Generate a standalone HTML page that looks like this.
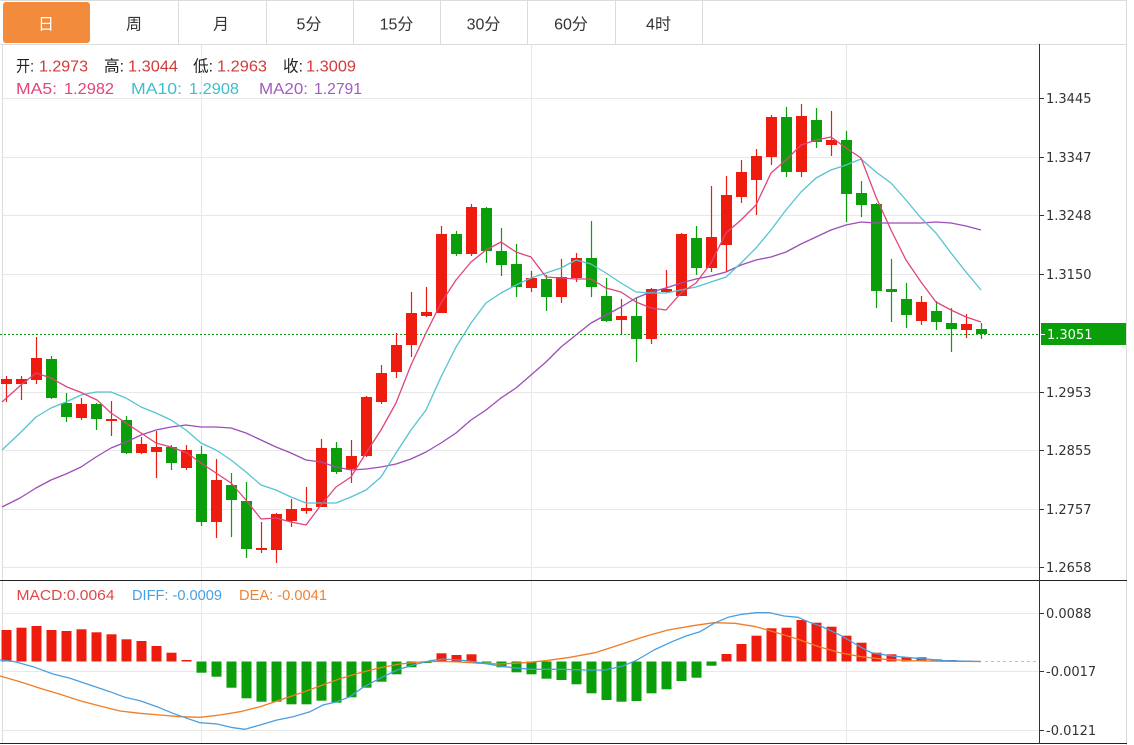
<!DOCTYPE html>
<html>
<head>
<meta charset="utf-8">
<style>
html,body{margin:0;padding:0;background:#fff;overflow:hidden;}
svg{display:block;}
.t{font-family:"Liberation Sans","Noto Sans CJK SC",sans-serif;}
.ax{font-family:"DejaVu Sans","Liberation Sans",sans-serif;font-size:13px;fill:#333;}
</style>
</head>
<body>
<svg width="1134" height="745" viewBox="0 0 1134 745" xmlns="http://www.w3.org/2000/svg">
<rect x="0" y="0" width="1134" height="745" fill="#fff"/>

<!-- tab bar -->
<line x1="0" y1="0.5" x2="1127" y2="0.5" stroke="#dcdcdc"/>
<line x1="0" y1="44.5" x2="1127" y2="44.5" stroke="#dcdcdc"/>
<g stroke="#dcdcdc">
<line x1="178.5" y1="0" x2="178.5" y2="44"/>
<line x1="266.5" y1="0" x2="266.5" y2="44"/>
<line x1="353.5" y1="0" x2="353.5" y2="44"/>
<line x1="440.5" y1="0" x2="440.5" y2="44"/>
<line x1="527.5" y1="0" x2="527.5" y2="44"/>
<line x1="615.5" y1="0" x2="615.5" y2="44"/>
<line x1="702.5" y1="0" x2="702.5" y2="44"/>
<line x1="1126.5" y1="0" x2="1126.5" y2="745"/>
<line x1="2.5" y1="44" x2="2.5" y2="743"/>
</g>
<rect x="3" y="2" width="87" height="41" rx="3" fill="#f28b3c"/>
<g class="t" font-size="16" text-anchor="middle" fill="#333">
<text x="46" y="29.5" fill="#fff">日</text>
<text x="134" y="29.5">周</text>
<text x="221" y="29.5">月</text>
<text x="309" y="29.5">5分</text>
<text x="396.5" y="29.5">15分</text>
<text x="483.5" y="29.5">30分</text>
<text x="571" y="29.5">60分</text>
<text x="658.5" y="29.5">4时</text>
</g>

<!-- grid -->
<g stroke="#e8e8e8" stroke-width="1">
<line x1="3" y1="98.5" x2="1039" y2="98.5"/>
<line x1="3" y1="157.5" x2="1039" y2="157.5"/>
<line x1="3" y1="215.5" x2="1039" y2="215.5"/>
<line x1="3" y1="274.5" x2="1039" y2="274.5"/>
<line x1="3" y1="392.5" x2="1039" y2="392.5"/>
<line x1="3" y1="450.5" x2="1039" y2="450.5"/>
<line x1="3" y1="509.5" x2="1039" y2="509.5"/>
<line x1="3" y1="567.5" x2="1039" y2="567.5"/>
<line x1="3" y1="613.5" x2="1039" y2="613.5"/>
<line x1="3" y1="671.5" x2="1039" y2="671.5"/>
<line x1="3" y1="730.5" x2="1039" y2="730.5"/>
<line x1="201.5" y1="45" x2="201.5" y2="743"/>
<line x1="531.5" y1="45" x2="531.5" y2="743"/>
<line x1="846.5" y1="45" x2="846.5" y2="743"/>
</g>

<!-- legend -->
<g class="t" font-size="16">
<text x="16" y="71.5" fill="#222" textLength="18" lengthAdjust="spacingAndGlyphs">开:</text>
<text x="39" y="71.5" fill="#d23a3a" textLength="49" lengthAdjust="spacingAndGlyphs">1.2973</text>
<text x="104" y="71.5" fill="#222" textLength="20" lengthAdjust="spacingAndGlyphs">高:</text>
<text x="128" y="71.5" fill="#d23a3a" textLength="50" lengthAdjust="spacingAndGlyphs">1.3044</text>
<text x="193" y="71.5" fill="#222" textLength="20" lengthAdjust="spacingAndGlyphs">低:</text>
<text x="217" y="71.5" fill="#d23a3a" textLength="50" lengthAdjust="spacingAndGlyphs">1.2963</text>
<text x="283" y="71.5" fill="#222" textLength="20" lengthAdjust="spacingAndGlyphs">收:</text>
<text x="306" y="71.5" fill="#d23a3a" textLength="50" lengthAdjust="spacingAndGlyphs">1.3009</text>
<text x="16" y="94" fill="#e0457b" textLength="41" lengthAdjust="spacingAndGlyphs">MA5:</text>
<text x="64" y="94" fill="#e0457b" textLength="50" lengthAdjust="spacingAndGlyphs">1.2982</text>
<text x="131" y="94" fill="#3dbfcc" textLength="51" lengthAdjust="spacingAndGlyphs">MA10:</text>
<text x="189" y="94" fill="#3dbfcc" textLength="50" lengthAdjust="spacingAndGlyphs">1.2908</text>
<text x="259" y="94" fill="#a05cc0" textLength="49" lengthAdjust="spacingAndGlyphs">MA20:</text>
<text x="314" y="94" fill="#a05cc0" textLength="48" lengthAdjust="spacingAndGlyphs">1.2791</text>
</g>

<!-- current price dotted line -->
<line x1="0" y1="334.5" x2="1040" y2="334.5" stroke="#0a9e0a" stroke-width="1" stroke-dasharray="2,2"/>

<!-- candles: red -->
<path fill="none" stroke="#ee1c0e" stroke-width="1.2" d="M6.5 376V402M21.5 376V400M36.5 337V384M81.5 398V420M111.5 401V436M141.5 437V454M156.5 431V478M186.5 445V470M216.5 459V538M261.5 522V553M276.5 513V563M291.5 499V527M306.5 487V514M321.5 439V507M351.5 440V483M366.5 396V457M381.5 365V404M396.5 333V378M411.5 292V357M426.5 287V317M441.5 226V313M471.5 204V256M531.5 271V292M561.5 259V303M576.5 253V282M621.5 299V334M651.5 288V344M666.5 270V293M681.5 233V296M711.5 186V272M726.5 176V272M741.5 160V203M756.5 149V215M771.5 115V165M801.5 104V177M831.5 111V156M921.5 296V325M966.5 314V338"/>
<path fill="#ee1c0e" d="M1 379h11V384h-11zM16 379h11V384h-11zM31 358h11V380h-11zM76 404h11V418h-11zM106 419h11V421h-11zM136 444h11V453h-11zM151 447h11V452h-11zM181 450h11V468h-11zM211 480h11V522h-11zM256 548h11V550h-11zM271 514h11V550h-11zM286 509h11V521h-11zM301 508h11V511h-11zM316 448h11V507h-11zM346 456h11V469h-11zM361 397h11V456h-11zM376 373h11V402h-11zM391 345h11V372h-11zM406 313h11V345h-11zM421 312h11V316h-11zM436 234h11V313h-11zM466 207h11V254h-11zM526 278h11V288h-11zM556 277h11V297h-11zM571 258h11V278h-11zM616 316h11V320h-11zM646 289h11V339h-11zM661 289h11V292h-11zM676 234h11V296h-11zM706 237h11V268h-11zM721 195h11V245h-11zM736 172h11V197h-11zM751 156h11V180h-11zM766 117h11V157h-11zM796 116h11V172h-11zM826 140h11V145h-11zM916 302h11V321h-11zM961 324h11V330h-11z"/>

<!-- candles: green -->
<path fill="none" stroke="#0a9e0a" stroke-width="1.2" d="M51.5 356V399M66.5 393V422M96.5 403V430M126.5 416V454M171.5 445V470M201.5 446V526M231.5 473V537M246.5 482V558M336.5 442V474M456.5 231V256M486.5 207V263M501.5 228V276M516.5 244V297M546.5 275V311M591.5 221V297M606.5 278V322M636.5 297V362M696.5 226V275M786.5 107V177M816.5 108V148M846.5 131V222M861.5 181V217M876.5 203V308M891.5 259V322M906.5 283V328M936.5 301V330M951.5 308V352M981.5 323V339"/>
<path fill="#0a9e0a" d="M46 359h11V398h-11zM61 403h11V417h-11zM91 404h11V419h-11zM121 420h11V453h-11zM166 447h11V463h-11zM196 454h11V522h-11zM226 485h11V500h-11zM241 501h11V549h-11zM331 448h11V472h-11zM451 234h11V254h-11zM481 208h11V251h-11zM496 251h11V265h-11zM511 264h11V287h-11zM541 279h11V297h-11zM586 258h11V287h-11zM601 296h11V321h-11zM631 316h11V339h-11zM691 238h11V268h-11zM781 117h11V172h-11zM811 120h11V142h-11zM841 140h11V194h-11zM856 193h11V205h-11zM871 204h11V291h-11zM886 289h11V292h-11zM901 299h11V315h-11zM931 311h11V322h-11zM946 323h11V329h-11zM976 329h11V334h-11z"/>

<!-- MA lines -->
<polyline fill="none" stroke="#9d4db7" stroke-width="1.3" stroke-linejoin="round" points="2,507 20,498 36,488 51,480 66,474 81,467 96,457 111,448 126,442 141,435 156,430 171,427 186,425 201,427 216,427 231,428 246,433 261,440 276,447 291,453 306,460 321,462 336,467 351,470 366,469 381,467 396,464 411,459 426,452 441,443 456,433 471,420 486,410 501,398 516,388 531,375 546,362 561,347 576,335 591,323 606,315 621,307 636,298 651,292 666,288 681,283 696,279 711,276 726,272 741,265 756,260 771,257 786,252 801,244 816,237 831,230 846,225 861,222 876,223 891,223 906,223 921,223 936,222 951,223 966,226 981,230"/>
<polyline fill="none" stroke="#55c3d2" stroke-width="1.3" stroke-linejoin="round" points="2,450 20,433 36,417 51,408 66,402 81,395 96,392 111,392 126,398 141,407 156,413 171,420 186,430 201,443 216,450 231,460 246,472 261,485 276,490 291,497 306,503 321,503 336,503 351,497 366,490 381,477 396,453 411,430 426,410 441,377 456,347 471,323 486,303 501,293 516,285 531,278 546,273 561,268 576,260 591,264 606,273 621,283 636,292 651,293 666,293 681,290 696,287 711,282 726,277 741,263 756,248 771,230 786,210 801,192 816,178 831,170 846,165 861,159 876,172 891,183 906,200 921,218 936,233 951,253 966,272 981,290"/>
<polyline fill="none" stroke="#e0457b" stroke-width="1.3" stroke-linejoin="round" points="2,402 21,385 36,373 51,378 67,387 80,392 97,400 111,413 126,423 141,433 156,443 171,447 187,453 201,463 216,473 231,483 246,500 261,519 276,518 291,522 306,525 321,505 336,487 351,477 366,453 381,430 396,403 411,365 426,333 441,303 456,280 471,262 486,250 501,242 516,252 531,257 546,277 561,278 576,279 591,279 606,288 621,292 636,302 651,308 666,310 681,293 696,283 711,263 726,233 741,220 756,205 771,173 786,160 801,145 816,140 831,137 846,148 861,158 876,197 891,230 906,260 921,282 936,302 951,310 966,317 981,322"/>

<!-- MACD legend -->
<g class="t" font-size="15">
<text x="16.5" y="600" fill="#e04848" textLength="98" lengthAdjust="spacingAndGlyphs">MACD:0.0064</text>
<text x="132" y="600" fill="#4a9fe0" textLength="90" lengthAdjust="spacingAndGlyphs">DIFF: -0.0009</text>
<text x="239" y="600" fill="#ea8436" textLength="88" lengthAdjust="spacingAndGlyphs">DEA: -0.0041</text>
</g>

<!-- MACD bars red -->
<g fill="#ee1c0e">
<rect x="1.5" y="630" width="10" height="31.5"/>
<rect x="16.5" y="627.7" width="10" height="33.8"/>
<rect x="31.5" y="626" width="10" height="35.5"/>
<rect x="46.5" y="630" width="10" height="31.5"/>
<rect x="61.5" y="631" width="10" height="30.5"/>
<rect x="76.5" y="629.3" width="10" height="32.2"/>
<rect x="91.5" y="632.3" width="10" height="29.2"/>
<rect x="106.5" y="634.3" width="10" height="27.2"/>
<rect x="121.5" y="639.3" width="10" height="22.2"/>
<rect x="136.5" y="641" width="10" height="20.5"/>
<rect x="151.5" y="646" width="10" height="15.5"/>
<rect x="166.5" y="652.7" width="10" height="8.8"/>
<rect x="181.5" y="660" width="10" height="1.5"/>
<rect x="436.5" y="653.3" width="10" height="8.2"/>
<rect x="451.5" y="655" width="10" height="6.5"/>
<rect x="466.5" y="654.3" width="10" height="7.2"/>
<rect x="721.5" y="654" width="10" height="7.5"/>
<rect x="736.5" y="644" width="10" height="17.5"/>
<rect x="751.5" y="635.7" width="10" height="25.8"/>
<rect x="766.5" y="628.3" width="10" height="33.2"/>
<rect x="781.5" y="627.7" width="10" height="33.8"/>
<rect x="796.5" y="620" width="10" height="41.5"/>
<rect x="811.5" y="622.7" width="10" height="38.8"/>
<rect x="826.5" y="626.7" width="10" height="34.8"/>
<rect x="841.5" y="635.7" width="10" height="25.8"/>
<rect x="856.5" y="642.7" width="10" height="18.8"/>
<rect x="871.5" y="652.7" width="10" height="8.8"/>
<rect x="886.5" y="654.3" width="10" height="7.2"/>
<rect x="901.5" y="657.3" width="10" height="4.2"/>
<rect x="916.5" y="657.3" width="10" height="4.2"/>
<rect x="931.5" y="659.3" width="10" height="2.2"/>
<rect x="946.5" y="660" width="10" height="1.5"/>
<rect x="961.5" y="660.5" width="10" height="1"/>
</g>
<!-- MACD bars green -->
<g fill="#0a9e0a">
<rect x="196.5" y="661.5" width="10" height="11.2"/>
<rect x="211.5" y="661.5" width="10" height="15.2"/>
<rect x="226.5" y="661.5" width="10" height="26.2"/>
<rect x="241.5" y="661.5" width="10" height="36.8"/>
<rect x="256.5" y="661.5" width="10" height="40.2"/>
<rect x="271.5" y="661.5" width="10" height="40.2"/>
<rect x="286.5" y="661.5" width="10" height="42.8"/>
<rect x="301.5" y="661.5" width="10" height="42.8"/>
<rect x="316.5" y="661.5" width="10" height="39.2"/>
<rect x="331.5" y="661.5" width="10" height="41.2"/>
<rect x="346.5" y="661.5" width="10" height="35.8"/>
<rect x="361.5" y="661.5" width="10" height="26.2"/>
<rect x="376.5" y="661.5" width="10" height="20.2"/>
<rect x="391.5" y="661.5" width="10" height="12.8"/>
<rect x="406.5" y="661.5" width="10" height="5.8"/>
<rect x="421.5" y="661.5" width="10" height="1.5"/>
<rect x="481.5" y="661.5" width="10" height="1.2"/>
<rect x="496.5" y="661.5" width="10" height="5.8"/>
<rect x="511.5" y="661.5" width="10" height="10.8"/>
<rect x="526.5" y="661.5" width="10" height="12.8"/>
<rect x="541.5" y="661.5" width="10" height="17.2"/>
<rect x="556.5" y="661.5" width="10" height="18.5"/>
<rect x="571.5" y="661.5" width="10" height="22.8"/>
<rect x="586.5" y="661.5" width="10" height="31.8"/>
<rect x="601.5" y="661.5" width="10" height="38.5"/>
<rect x="616.5" y="661.5" width="10" height="40.2"/>
<rect x="631.5" y="661.5" width="10" height="39.5"/>
<rect x="646.5" y="661.5" width="10" height="31.8"/>
<rect x="661.5" y="661.5" width="10" height="27.8"/>
<rect x="676.5" y="661.5" width="10" height="19.5"/>
<rect x="691.5" y="661.5" width="10" height="16.2"/>
<rect x="706.5" y="661.5" width="10" height="4.2"/>
</g>

<!-- DEA / DIFF -->
<polyline fill="none" stroke="#f07d24" stroke-width="1.3" stroke-linejoin="round" points="0,676 20,681.7 40,688.3 60,694.3 80,700.7 100,706 120,711 140,713.3 160,715 180,716.7 200,717.3 220,715 240,711.7 260,706.7 280,700 300,693.3 320,686 340,678.7 360,672.7 380,667.7 400,664 420,662 440,661.3 460,662 480,663.3 500,664 525,662.7 546,660.7 570,657.3 595,652.7 619,645 644,636.7 668,630 693,625.7 714,622.7 735,623.3 756,626.7 777,632.7 798,639.3 819,646.7 840,652.7 861,656.7 885,659.3 910,660.7 945,661.3 981,661.5"/>
<polyline fill="none" stroke="#4a9fe0" stroke-width="1.3" stroke-linejoin="round" points="0,660 15,661.7 33,666.7 53,674 70,678.3 90,685 110,691.7 125,697.3 140,700.7 157,706.7 173,713.3 187,718.3 200,722.7 217,724 233,727.7 245,729.3 260,725 277,720 293,716.7 310,711.7 323,705 337,701.7 350,696.7 363,687.3 380,678.3 397,670 413,665 430,660.7 443,659 460,660 480,662.7 500,666 515,668 532,669.3 560,669.3 588,670 605,670 623,666 637,660 654,650 672,641.7 686,636 700,631.7 714,623.3 728,617.3 742,614.3 756,612.7 770,612.7 784,616 798,617.3 808,621.7 822,626.7 840,635 857,645 871,652.7 892,656 917,658.3 945,660.7 981,661.5"/>
<line x1="985" y1="661.5" x2="1040" y2="661.5" stroke="#a8cbd8" stroke-width="1" stroke-dasharray="3,3"/>

<!-- frame lines -->
<line x1="0" y1="580.5" x2="1127" y2="580.5" stroke="#222" stroke-width="1"/>
<line x1="0" y1="743.5" x2="1127" y2="743.5" stroke="#222" stroke-width="1"/>
<line x1="1039.5" y1="44" x2="1039.5" y2="744" stroke="#333" stroke-width="1"/>

<!-- axis ticks -->
<g stroke="#333" stroke-width="1">
<line x1="1039" y1="98.5" x2="1044" y2="98.5"/>
<line x1="1039" y1="157.5" x2="1044" y2="157.5"/>
<line x1="1039" y1="215.5" x2="1044" y2="215.5"/>
<line x1="1039" y1="274.5" x2="1044" y2="274.5"/>
<line x1="1039" y1="392.5" x2="1044" y2="392.5"/>
<line x1="1039" y1="450.5" x2="1044" y2="450.5"/>
<line x1="1039" y1="509.5" x2="1044" y2="509.5"/>
<line x1="1039" y1="567.5" x2="1044" y2="567.5"/>
<line x1="1039" y1="613.5" x2="1044" y2="613.5"/>
<line x1="1039" y1="671.5" x2="1044" y2="671.5"/>
<line x1="1039" y1="730.5" x2="1044" y2="730.5"/>
</g>
<g class="ax">
<text x="1046" y="103">1.3445</text>
<text x="1046" y="162">1.3347</text>
<text x="1046" y="220">1.3248</text>
<text x="1046" y="279">1.3150</text>
<text x="1046" y="397">1.2953</text>
<text x="1046" y="455">1.2855</text>
<text x="1046" y="514">1.2757</text>
<text x="1046" y="572">1.2658</text>
<text x="1046" y="618">0.0088</text>
<text x="1046" y="676">-0.0017</text>
<text x="1046" y="735">-0.0121</text>
</g>
<rect x="1041" y="323" width="85" height="22" fill="#0a9e0a"/>
<line x1="1041" y1="334.5" x2="1045" y2="334.5" stroke="#fff" stroke-width="1"/>
<text class="ax" x="1047" y="339" fill="#fff" style="fill:#fff">1.3051</text>
</svg>
</body>
</html>
